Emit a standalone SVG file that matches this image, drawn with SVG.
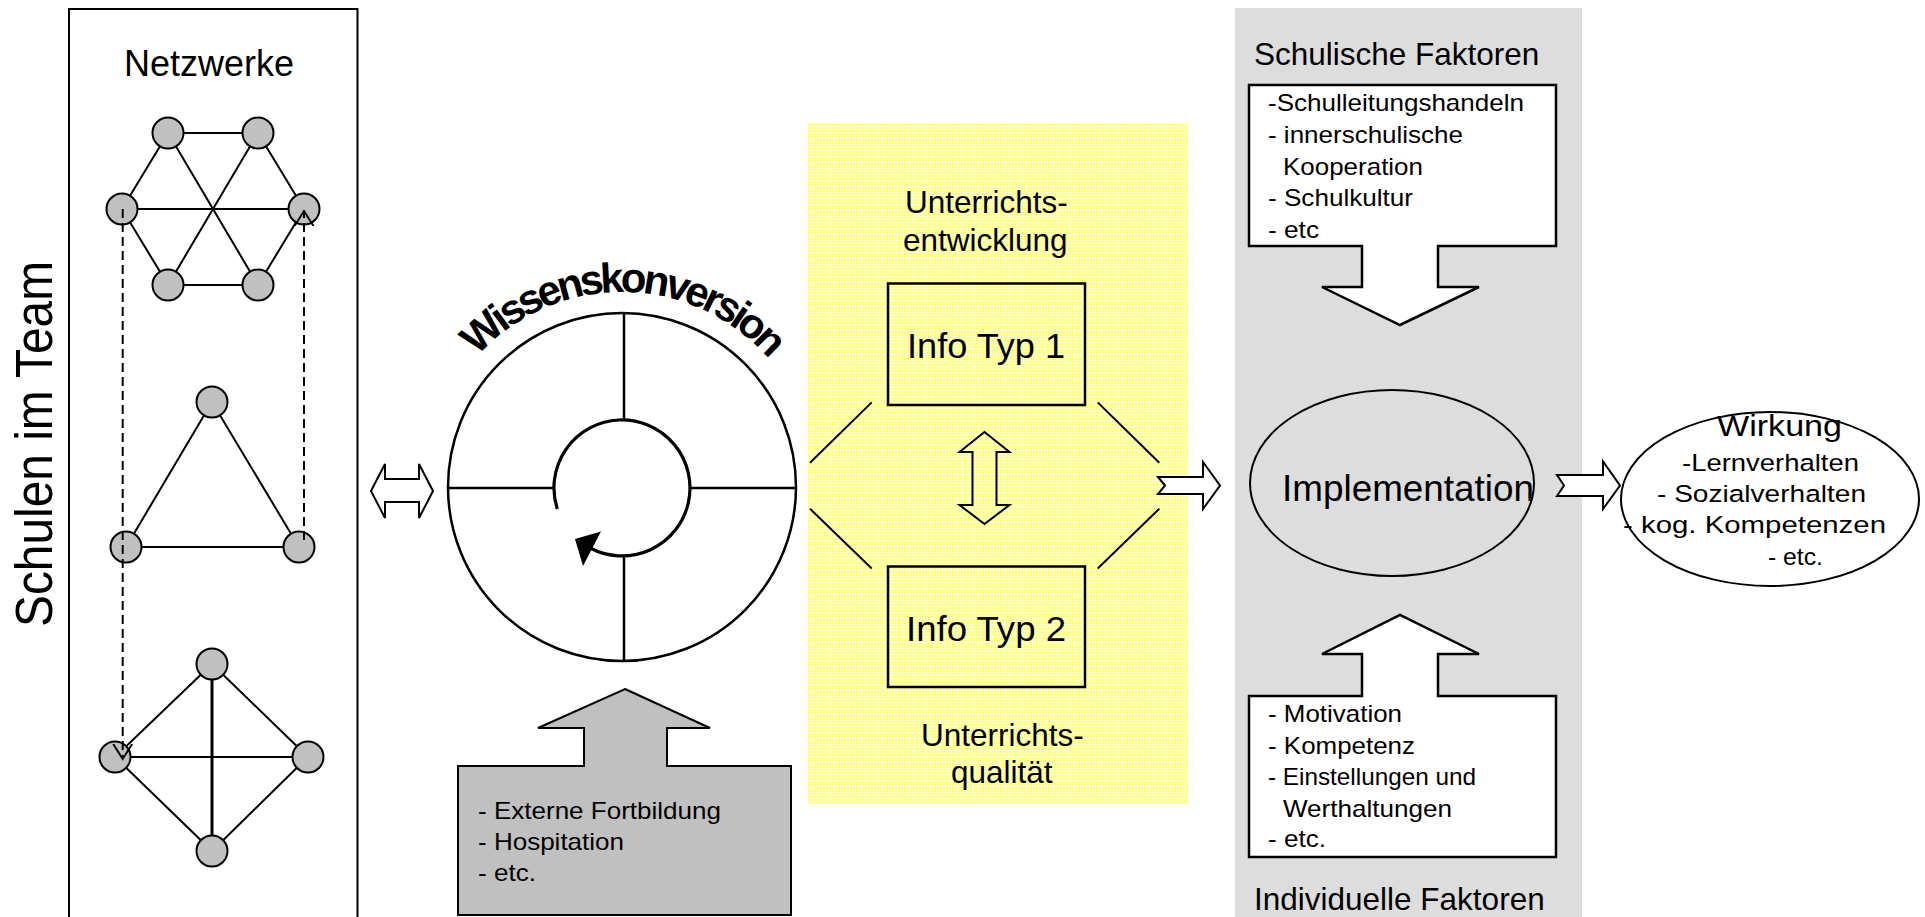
<svg xmlns="http://www.w3.org/2000/svg" width="1925" height="917" viewBox="0 0 1925 917">
<defs>
<style>
text{font-family:"Liberation Sans",Arial,Helvetica,sans-serif;fill:#000}
.edge{stroke:#000;stroke-width:2;fill:none}
.node{fill:#c0c0c0;stroke:#000;stroke-width:2}
.dash{stroke:#000;stroke-width:2;stroke-dasharray:9 5;fill:none}
.box{fill:none;stroke:#000;stroke-width:2.5}
.callout{fill:#fff;stroke:#000;stroke-width:2.5}
.barrow{fill:#fff;stroke:#000;stroke-width:2}
.line{stroke:#000;stroke-width:2.5;fill:none}
.hd{font-size:31.5px}
.li{font-size:24px}
.wi{font-size:24.5px}
</style>
<pattern id="yel" width="3" height="3" patternUnits="userSpaceOnUse">
<rect width="3" height="3" fill="#ffff78"/>
<rect width="3" height="1" fill="#ffffc8"/>
<rect width="1" height="3" fill="#ffffc8"/>
</pattern>
<marker id="openV" markerUnits="userSpaceOnUse" markerWidth="18" markerHeight="22" refX="15" refY="10" orient="auto">
<path d="M0,0.5 L15,10 L0,19.5" fill="none" stroke="#000" stroke-width="2" stroke-dasharray="none"/>
</marker>
<path id="wkArc" d="M427,487 A195,195 0 0 1 817,487" fill="none"/>
</defs>

<rect x="0" y="0" width="1925" height="917" fill="#fff"/>

<g id="panel-faktoren">
<rect x="1235" y="8" width="347" height="920" fill="#dddddd"/>
</g>

<g id="panel-unterricht">
<rect x="808" y="123" width="380" height="681" fill="url(#yel)"/>
<text class="hd" x="905" y="213">Unterrichts-</text>
<text class="hd" x="903" y="251">entwicklung</text>
<text class="hd" x="921" y="746">Unterrichts-</text>
<text class="hd" x="951" y="783">qualität</text>
</g>

<g id="panel-netzwerke">
<rect x="69" y="9" width="288.5" height="920" fill="none" stroke="#000" stroke-width="2"/>
<text x="124" y="76" font-size="36">Netzwerke</text>
</g>

<g id="label-schulen">
<text transform="translate(52,444) rotate(-90)" text-anchor="middle" font-size="51" textLength="366" lengthAdjust="spacingAndGlyphs">Schulen im Team</text>
</g>

<g id="network-hexagon">
<circle class="node" cx="168" cy="133" r="15.5"/>
<circle class="node" cx="258" cy="133" r="15.5"/>
<circle class="node" cx="122" cy="209" r="15.5"/>
<circle class="node" cx="304" cy="209" r="15.5"/>
<circle class="node" cx="168" cy="285" r="15.5"/>
<circle class="node" cx="258" cy="285" r="15.5"/>
</g>
<g id="network-triangle">
<circle class="node" cx="212" cy="402" r="15.5"/>
<circle class="node" cx="126" cy="547" r="15.5"/>
<circle class="node" cx="299" cy="547" r="15.5"/>
</g>
<g id="network-tetra">
<circle class="node" cx="212" cy="664" r="15.5"/>
<circle class="node" cx="115" cy="757" r="15.5"/>
<circle class="node" cx="308" cy="757" r="15.5"/>
<circle class="node" cx="212" cy="851" r="15.5"/>
</g>

<g id="wissenskonversion">
<circle cx="622" cy="487" r="174" fill="none" stroke="#000" stroke-width="2.5"/>
<path class="line" d="M624,313 V420 M624,556 V661 M448,488 H554 M690,488 H796"/>
<path d="M557.3,509 A68,68 0 1 1 590.1,548" fill="none" stroke="#000" stroke-width="3.2"/>
<polygon points="575,539 601,531.5 583,566" fill="#000"/>
<text font-size="42" font-weight="bold" letter-spacing="-4"><textPath href="#wkArc" startOffset="50%" text-anchor="middle">Wissenskonversion</textPath></text>
</g>

<g id="fortbildung">
<polygon points="625,689 710,728 667,728 667,766 791,766 791,915 458,915 458,766 584,766 584,728 538,728" fill="#c0c0c0" stroke="#000" stroke-width="2"/>
<text class="li" x="478" y="819" textLength="243" lengthAdjust="spacingAndGlyphs">- Externe Fortbildung</text>
<text class="li" x="478" y="850" textLength="146" lengthAdjust="spacingAndGlyphs">- Hospitation</text>
<text class="li" x="478" y="881" textLength="58" lengthAdjust="spacingAndGlyphs">- etc.</text>
</g>

<g id="info-typ-1">
<rect class="box" x="888" y="283.5" width="197" height="121.5"/>
<text x="907" y="358" font-size="35" textLength="158" lengthAdjust="spacingAndGlyphs">Info Typ 1</text>
</g>
<g id="info-typ-2">
<rect class="box" x="888" y="566.5" width="197" height="120.5"/>
<text x="906" y="641" font-size="35" textLength="160" lengthAdjust="spacingAndGlyphs">Info Typ 2</text>
</g>

<g id="schulische-faktoren">
<text class="hd" x="1254" y="65">Schulische Faktoren</text>
<polygon class="callout" points="1249,85 1556,85 1556,246 1438,246 1438,287 1479,287 1400,325 1322,287 1362,287 1362,246 1249,246"/>
<text class="li" x="1268" y="111" textLength="256" lengthAdjust="spacingAndGlyphs">-Schulleitungshandeln</text>
<text class="li" x="1268" y="143" textLength="195" lengthAdjust="spacingAndGlyphs">- innerschulische</text>
<text class="li" x="1283" y="174.5" textLength="140" lengthAdjust="spacingAndGlyphs">Kooperation</text>
<text class="li" x="1268" y="206" textLength="145" lengthAdjust="spacingAndGlyphs">- Schulkultur</text>
<text class="li" x="1268" y="237.5" textLength="51" lengthAdjust="spacingAndGlyphs">- etc</text>
</g>

<g id="implementation">
<ellipse cx="1392" cy="483" rx="142" ry="93" fill="none" stroke="#000" stroke-width="2"/>
<text x="1282" y="501" font-size="37" textLength="252" lengthAdjust="spacingAndGlyphs">Implementation</text>
</g>

<g id="individuelle-faktoren">
<polygon class="callout" points="1249,696 1362,696 1362,654 1322,654 1400,615 1479,654 1438,654 1438,696 1556,696 1556,857 1249,857"/>
<text class="li" x="1268" y="722" textLength="134" lengthAdjust="spacingAndGlyphs">- Motivation</text>
<text class="li" x="1268" y="753.5" textLength="147" lengthAdjust="spacingAndGlyphs">- Kompetenz</text>
<text class="li" x="1268" y="785" textLength="208" lengthAdjust="spacingAndGlyphs">- Einstellungen und</text>
<text class="li" x="1283" y="816.5" textLength="169" lengthAdjust="spacingAndGlyphs">Werthaltungen</text>
<text class="li" x="1268" y="847" textLength="58" lengthAdjust="spacingAndGlyphs">- etc.</text>
<text class="hd" x="1254" y="910">Individuelle Faktoren</text>
</g>

<g id="wirkung">
<ellipse cx="1770" cy="499" rx="149" ry="87" fill="#fff" stroke="#000" stroke-width="2"/>
<text x="1717" y="436" font-size="30" textLength="125" lengthAdjust="spacingAndGlyphs">Wirkung</text>
<text class="wi" x="1682" y="471" textLength="177" lengthAdjust="spacingAndGlyphs">-Lernverhalten</text>
<text class="wi" x="1657" y="502" textLength="209" lengthAdjust="spacingAndGlyphs">- Sozialverhalten</text>
<text class="wi" x="1623" y="533" textLength="263" lengthAdjust="spacingAndGlyphs">- kog. Kompetenzen</text>
<text class="wi" x="1768" y="565" textLength="55" lengthAdjust="spacingAndGlyphs">- etc.</text>
</g>

<g id="connectors">
<path class="edge" d="M183.5,133 H242.5 M160,146.3 L130,195.7 M266,146.3 L296,195.7 M130,222.3 L160,271.7 M296,222.3 L266,271.7 M183.5,285 H242.5 M137.5,209 H288.5 M175.9,146.3 L250.1,271.7 M250.1,146.3 L175.9,271.7"/>
<path class="edge" d="M204.1,415.3 L133.9,533.7 M220,415.3 L291,533.7 M141.5,547 H283.5"/>
<path class="edge" d="M200.8,674.7 L126.2,746.3 M223.1,674.8 L296.9,746.2 M126.1,767.8 L200.9,840.2 M296.9,767.8 L223.1,840.2 M130.5,757 H292.5"/>
<path d="M212,679.5 V835.5" stroke="#000" stroke-width="3"/>
<path class="dash" d="M122.7,209 V759" marker-end="url(#openV)"/>
<path class="dash" d="M304,540 V211" marker-end="url(#openV)"/>
<polygon class="barrow" points="371,491 385,464 385,479 419,479 419,464 433,491 419,518 419,502 385,502 385,518"/>
<polygon points="984.5,432 1009.5,452 996.5,452 996.5,505 1009.5,505 984.5,524 959.5,505 972.5,505 972.5,452 959.5,452" fill="none" stroke="#000" stroke-width="2"/>
<path class="edge" d="M810,462.7 L871.7,402.4 M810,508.7 L871.7,568.5 M1097.7,402.4 L1159.3,462.7 M1159.3,508.7 L1097.7,568.5"/>
<polygon class="barrow" points="1158,477 1203,477 1203,462 1220,485.5 1203,509 1203,494 1158,494 1165,485.5"/>
<polygon class="barrow" points="1557,475 1603,475 1603,461.5 1620,485.5 1603,509 1603,496 1557,496 1564,485.5"/>
</g>
</svg>
